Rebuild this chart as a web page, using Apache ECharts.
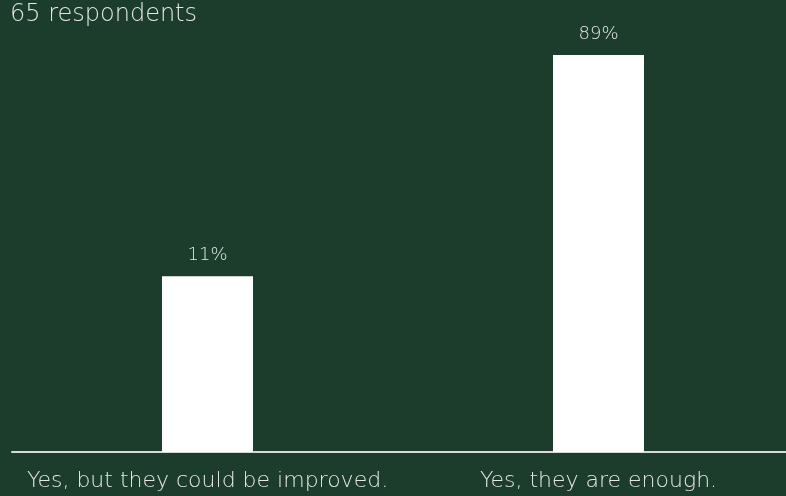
<!DOCTYPE html>
<html>
<head>
<meta charset="utf-8">
<script src="https://cdn.jsdelivr.net/npm/echarts@6/dist/echarts.min.js"></script>
<style>
html,body{margin:0;padding:0;background:#1c3c2c;}
#chart{width:786px;height:496px;}
</style>
</head>
<body>
<div id="chart"></div>
<script>
const titleText = "65 respondents";
const categories = ["Yes, but they could be improved.", "Yes, they are enough."];
const values = [11, 89];

const FONT = "'DejaVu Sans'";
const chart = echarts.init(document.getElementById('chart'));
chart.setOption({
  backgroundColor: '#1c3c2c',
  animation: false,
  textStyle: { fontFamily: FONT },
  title: {
    text: titleText, left: 5, top: -2,
    textStyle: { color: '#e6e6e6', fontSize: 24, fontWeight: 200, fontFamily: FONT }
  },
  grid: { left: 12, width: 782, top: 55, bottom: 44, containLabel: false, outerBoundsMode: 'none' },
  xAxis: {
    type: 'category', data: categories,
    axisLine: { onZero: false, lineStyle: { color: '#d9d9d9', width: 2 } },
    axisTick: { show: false },
    axisLabel: { interval: 0, color: '#e6e6e6', fontSize: 22, fontWeight: 200, margin: 18, fontFamily: FONT }
  },
  yAxis: {
    type: 'value', min: -51, max: 89, startValue: -51, show: false,
    splitLine: { show: false }
  },
  series: [{
    type: 'bar', data: values, barWidth: 91,
    itemStyle: { color: '#ffffff' },
    label: {
      show: true, position: 'top', distance: 12,
      formatter: p => p.value + '%',
      color: '#e6e6e6', fontSize: 18, fontWeight: 200, fontFamily: FONT
    }
  }]
});
</script>
</body>
</html>
